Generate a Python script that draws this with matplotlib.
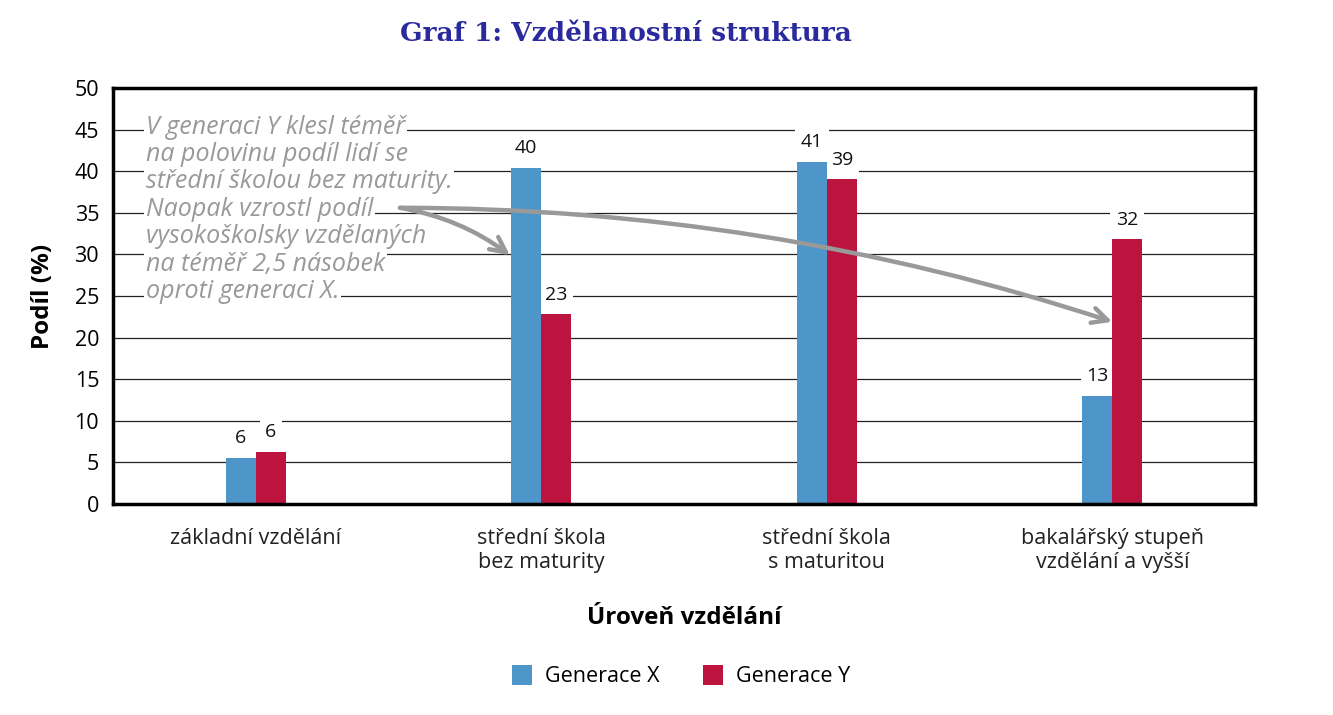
import matplotlib.pyplot as plt
import numpy as np

## data
categories = ['základní vzdělání', 'střední škola\nbez maturity',
              'střední škola\ns maturitou', 'bakalářský stupeň\nvzdělání a vyšší']
gen_x = [5.5, 40.4, 41.1, 13.0]
gen_y = [6.3, 22.8, 39.0, 31.8]
series_names = ['Generace X', 'Generace Y']
note_lines = ['V generaci Y klesl téměř',
              'na polovinu podíl lidí se',
              'střední školou bez maturity.',
              'Naopak vzrostl podíl',
              'vysokoškolsky vzdělaných',
              'na téměř 2,5 násobek',
              'oproti generaci X.']

blue = '#4e95c9'
red = '#bc143f'
grey = '#999999'

plt.rcParams['font.family'] = ['Open Sans', 'DejaVu Sans']

fig = plt.figure(figsize=(13.33, 7.15), dpi=100)
ax = fig.add_axes([0.0848, 0.295, 0.8567, 0.582])

x = np.arange(len(categories))
w = 0.105
bx = ax.bar(x - w/2, gen_x, w, color=blue, label=series_names[0], zorder=3)
by = ax.bar(x + w/2, gen_y, w, color=red, label=series_names[1], zorder=3)

# value labels sit under the bars but over the grid
for bars, vals in ((bx, gen_x), (by, gen_y)):
    for b, v in zip(bars, vals):
        ax.text(b.get_x() + b.get_width()/2, v + 1.3, '%d' % round(v),
                ha='center', va='bottom', fontsize=14, color='#111', zorder=2,
                bbox=dict(facecolor='white', edgecolor='none', pad=4))

ax.set_xlim(-0.5, 3.5)
ax.set_ylim(0, 50)
ax.set_yticks(np.arange(0, 51, 5))
ax.set_xticks(x)
ax.set_xticklabels(categories, fontsize=15.5, color='#222', linespacing=1.2)
ax.tick_params(axis='both', length=0)
ax.tick_params(axis='x', pad=17)
ax.tick_params(axis='y', labelsize=15.5, pad=10)
ax.yaxis.grid(True, color='#222', lw=0.9, zorder=0)
ax.set_axisbelow(True)
for s in ax.spines.values():
    s.set_linewidth(2.5)
    s.set_color('black')
    s.set_zorder(7)

ax.set_ylabel('Podíl (%)', fontsize=17.5, fontweight='bold', labelpad=14)
ax.set_xlabel('Úroveň vzdělání', fontsize=17.5, fontweight='bold', labelpad=24)

# note text, one line at a time so each line hides the grid behind it
for i, line in enumerate(note_lines):
    ax.text(-0.385, 45.3 - i * 3.3, line, fontsize=18, style='italic',
            color=grey, va='center', ha='left', zorder=5,
            bbox=dict(facecolor='white', edgecolor='none', pad=1))

# arrows
head = '->,head_length=1.1,head_width=0.55'
ax.annotate('', xy=(0.89, 29.9), xytext=(0.505, 35.6), zorder=6,
            arrowprops=dict(arrowstyle=head, color=grey, lw=3.2, shrinkA=0, shrinkB=0,
                            connectionstyle='arc3,rad=-0.12'))
ax.annotate('', xy=(3.0, 21.9), xytext=(0.505, 35.6), zorder=6,
            arrowprops=dict(arrowstyle=head, color=grey, lw=3.2, shrinkA=0, shrinkB=0,
                            connectionstyle='arc3,rad=-0.08'))

fig.text(0.4697, 0.953, 'Graf 1: Vzdělanostní struktura', ha='center', va='center',
         fontsize=19, fontweight='bold', color='#2a2a9e', family='DejaVu Serif')

fig.legend(handles=[bx, by], labels=series_names, loc='center',
           bbox_to_anchor=(0.511, 0.054), ncol=2, frameon=False, fontsize=15.5,
           handlelength=0.95, handleheight=1.0, columnspacing=2.0, handletextpad=0.6)

fig.savefig('out.png', dpi=100)
